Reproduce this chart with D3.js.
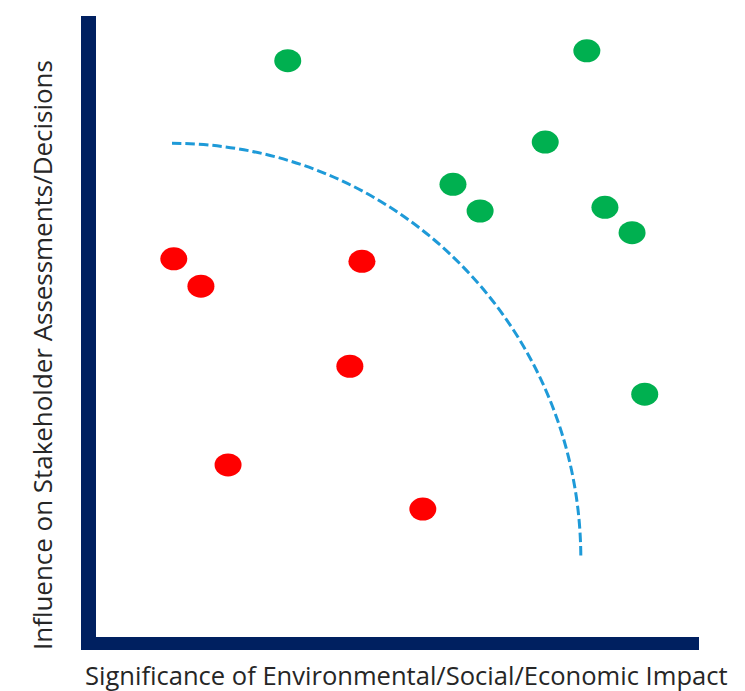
<!DOCTYPE html>
<html>
<head>
<meta charset="utf-8">
<script src="https://cdn.jsdelivr.net/npm/d3@7"></script>
<style>
  html, body { margin: 0; padding: 0; background: #fff; }
  svg { display: block; }
</style>
</head>
<body>
<svg id="chart" width="745" height="691"></svg>
<script>
// Materiality matrix: impact significance vs. stakeholder influence (0–10 scale)
const highX = [3.18, 8.14, 7.45, 5.92, 6.37, 8.44, 8.89, 9.10];
const highY = [9.28, 9.44, 7.97, 7.29, 6.86, 6.92, 6.51, 3.91];
const lowX  = [1.29, 1.74, 4.41, 4.21, 2.19, 5.42];
const lowY  = [6.09, 5.65, 6.05, 4.36, 2.77, 2.06];

// Threshold curve: quarter ellipse around a corner point (data units)
const thresholdCenter = [1.26, 1.27];
const thresholdRadius = [6.78, 6.68];

const xTitle = "Significance of Environmental/Social/Economic Impact";
const yTitle = "Influence on Stakeholder Assessments/Decisions";

const svg = d3.select("#chart");
const x = d3.scaleLinear().domain([0, 10]).range([96, 699]);
const y = d3.scaleLinear().domain([0, 10]).range([637, 16]);

const navy = "#002060";
const axisW = 15, axisH = 13;

// Axis bars
svg.append("rect")
  .attr("x", x.range()[0] - axisW).attr("y", y.range()[1])
  .attr("width", axisW).attr("height", y.range()[0] - y.range()[1] + axisH)
  .attr("fill", navy);
svg.append("rect")
  .attr("x", x.range()[0] - axisW).attr("y", y.range()[0])
  .attr("width", x.range()[1] - x.range()[0] + axisW).attr("height", axisH)
  .attr("fill", navy);

// Dashed threshold arc
const cx = x(thresholdCenter[0]), cy = y(thresholdCenter[1]);
const rx = x(thresholdCenter[0] + thresholdRadius[0]) - cx;
const ry = cy - y(thresholdCenter[1] + thresholdRadius[1]);
svg.append("path")
  .attr("d", `M${cx},${cy - ry} A${rx},${ry} 0 0 1 ${cx + rx},${cy}`)
  .attr("fill", "none")
  .attr("stroke", "#1e9ad8")
  .attr("stroke-width", 3)
  .attr("stroke-dasharray", "9.5 4");

// Points
const dot = (xs, ys, color) => svg.append("g").selectAll("ellipse")
  .data(xs.map((v, i) => [v, ys[i]]))
  .join("ellipse")
  .attr("cx", d => x(d[0])).attr("cy", d => y(d[1]))
  .attr("rx", 13.5).attr("ry", 11.5)
  .attr("fill", color);
dot(highX, highY, "#00b050");
dot(lowX, lowY, "#ff0000");

// Titles: fixed glyph height, squeezed horizontally to span their axes
const addTitle = (label, tx, ty, rot, target) => {
  const g = svg.append("g");
  const t = g.append("text")
    .attr("font-family", "'Open Sans', sans-serif")
    .attr("font-size", 25)
    .attr("fill", "#262626")
    .text(label);
  const k = target / t.node().getComputedTextLength();
  g.attr("transform", `translate(${tx},${ty}) rotate(${rot}) scale(${k},1)`);
};
addTitle(xTitle, 85, 685, 0, 643);
addTitle(yTitle, 52, 650, -90, 590);
</script>
</body>
</html>
